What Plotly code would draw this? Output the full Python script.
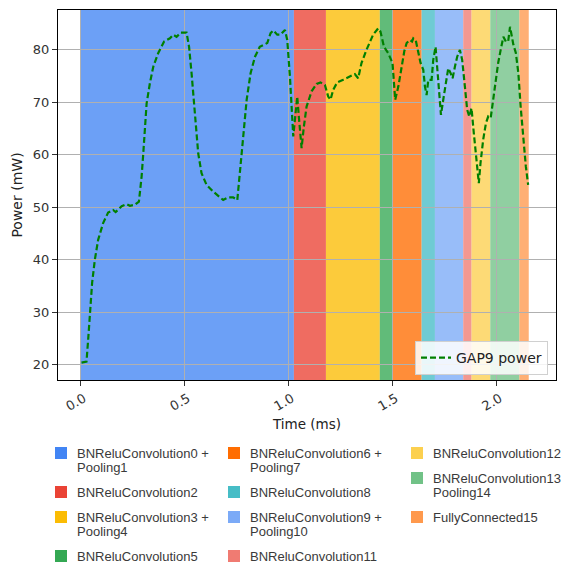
import plotly.graph_objects as go

# ---------------- data ----------------
time_ms = [0.003, 0.027, 0.035, 0.043, 0.054, 0.067, 0.083, 0.107, 0.131, 0.155,
           0.167, 0.196, 0.220, 0.236, 0.260, 0.279, 0.292, 0.300, 0.308, 0.316,
           0.332, 0.348, 0.372, 0.400, 0.428, 0.444, 0.460, 0.481, 0.508, 0.520,
           0.532, 0.543, 0.553, 0.564, 0.580, 0.604, 0.636, 0.665, 0.684, 0.708,
           0.732, 0.752, 0.761, 0.772, 0.784, 0.797, 0.816, 0.837, 0.860, 0.896,
           0.912, 0.925, 0.944, 0.960, 0.981, 0.992, 1.005, 1.013, 1.021, 1.029,
           1.040, 1.049, 1.061, 1.072, 1.085, 1.109, 1.133, 1.152, 1.173, 1.189,
           1.200, 1.213, 1.232, 1.261, 1.297, 1.317, 1.333, 1.349, 1.373, 1.405,
           1.429, 1.440, 1.457, 1.477, 1.498, 1.505, 1.511, 1.526, 1.542, 1.555,
           1.566, 1.582, 1.592, 1.598, 1.610, 1.622, 1.633, 1.646, 1.654, 1.662,
           1.670, 1.686, 1.694, 1.705, 1.713, 1.723, 1.731, 1.742, 1.753, 1.766,
           1.777, 1.787, 1.798, 1.809, 1.822, 1.833, 1.846, 1.857, 1.867, 1.878,
           1.889, 1.902, 1.913, 1.921, 1.934, 1.947, 1.958, 1.970, 1.983, 1.995,
           2.006, 2.018, 2.031, 2.043, 2.054, 2.063, 2.071, 2.079, 2.091, 2.103,
           2.114, 2.127, 2.139, 2.150]
power_mw = [20.4, 20.6, 24.8, 30.0, 35.6, 40.0, 43.8, 47.0, 49.0, 49.5,
            49.1, 50.2, 50.6, 50.3, 50.5, 51.1, 55.9, 60.3, 65.4, 69.8,
            73.7, 76.8, 79.4, 81.6, 82.2, 82.9, 82.5, 83.3, 83.3, 80.6,
            75.6, 69.8, 64.8, 60.3, 56.5, 54.3, 53.0, 52.1, 51.4, 51.9,
            51.9, 51.4, 55.2, 60.3, 65.4, 70.5, 75.6, 78.7, 80.6, 81.3,
            83.2, 83.7, 82.9, 82.9, 83.8, 81.9, 74.9, 67.9, 63.5, 66.7,
            71.1, 66.7, 61.3, 65.4, 69.2, 72.1, 73.5, 73.8, 73.3, 71.1,
            70.5, 72.4, 73.8, 74.3, 75.0, 75.4, 74.6, 77.5, 80.0, 82.9,
            84.1, 83.5, 80.6, 79.4, 77.5, 74.3, 70.5, 73.0, 76.8, 79.8,
            81.3, 81.9, 81.6, 82.2, 81.8, 79.4, 77.5, 76.2, 73.0, 71.4,
            74.3, 74.3, 78.1, 80.6, 76.2, 71.1, 67.6, 70.5, 73.7, 76.5,
            75.6, 74.6, 76.8, 78.7, 80.0, 78.1, 73.0, 68.6, 67.3, 68.9,
            64.1, 59.0, 54.6, 58.4, 62.9, 66.0, 67.3, 67.0, 71.1, 74.9,
            77.5, 80.0, 82.5, 81.6, 81.6, 84.4, 82.5, 81.0, 79.4, 75.6,
            69.2, 62.9, 57.8, 54.3]

layer_names = ["BNReluConvolution0 + Pooling1", "BNReluConvolution2",
               "BNReluConvolution3 + Pooling4", "BNReluConvolution5",
               "BNReluConvolution6 + Pooling7", "BNReluConvolution8",
               "BNReluConvolution9 + Pooling10", "BNReluConvolution11",
               "BNReluConvolution12", "BNReluConvolution13 + Pooling14",
               "FullyConnected15"]
layer_colors = ["#4285F4", "#EA4335", "#FBBC04", "#34A853", "#FF6D01", "#46BDC6",
                "#7BAAF7", "#F07B72", "#FCD04F", "#71C287", "#FF994D"]
layer_starts = [0.000, 1.024, 1.178, 1.437, 1.500, 1.638, 1.702, 1.838, 1.878, 1.968, 2.108]
layer_ends = [1.024, 1.178, 1.437, 1.500, 1.638, 1.702, 1.838, 1.878, 1.968, 2.108, 2.153]

x_ticks = [0.0, 0.5, 1.0, 1.5, 2.0]
x_tick_labels = ["0.0", "0.5", "1.0", "1.5", "2.0"]
y_ticks = [20, 30, 40, 50, 60, 70, 80]
y_tick_labels = ["20", "30", "40", "50", "60", "70", "80"]

# ---------------- layout geometry (page pixels) ----------------
PAGE_W, PAGE_H = 569, 565
OFF = 8                      # default body margin of the html page
W, H = PAGE_W - OFF, PAGE_H - OFF
PLOT_L, PLOT_T, PLOT_R, PLOT_B = 58, 10, 556, 380   # plot area in page pixels
ML, MT = PLOT_L - OFF, PLOT_T - OFF
MR, MB = W + OFF - PLOT_R, H + OFF - PLOT_B
PW, PH = PLOT_R - PLOT_L, PLOT_B - PLOT_T


def paper_x(px):
    return (px - PLOT_L) / PW


def paper_y(py):
    return (PLOT_B - py) / PH


AX_FONT = "DejaVu Sans"
LEG_FONT = "Liberation Sans, Arial, sans-serif"

fig = go.Figure()

# layer bands
for s, e, c in zip(layer_starts, layer_ends, layer_colors):
    fig.add_shape(type="rect", xref="x", yref="y domain", x0=s, x1=e, y0=0, y1=1,
                  fillcolor=c, opacity=0.78, line=dict(width=0), layer="below")

fig.add_trace(go.Scatter(
    x=time_ms, y=power_mw, mode="lines", name="GAP9 power",
    line=dict(color="#008000", width=2.2, dash="6px,3px"),
    showlegend=True,
))

# custom multi-column legend for layers (column-major)
items_per_col = [4, 4, 3]
col_px = [55, 228, 411]
row0 = 453
idx = 0
for ci, n in enumerate(items_per_col):
    y = row0
    for _ in range(n):
        name = layer_names[idx]
        color = layer_colors[idx]
        lines = name.replace(" + ", " +\n").split("\n")
        x0 = col_px[ci]
        fig.add_shape(type="rect", xref="paper", yref="paper",
                      x0=paper_x(x0), x1=paper_x(x0 + 12),
                      y0=paper_y(y + 6), y1=paper_y(y - 6),
                      fillcolor=color, line=dict(width=0), layer="above")
        for li, txt in enumerate(lines):
            fig.add_annotation(xref="paper", yref="paper", x=paper_x(x0 + 20),
                               y=paper_y(y + 14 * li), text=txt, showarrow=False,
                               xanchor="left", yanchor="middle", align="left",
                               font=dict(family=LEG_FONT, size=13, color="#3a3a3a"))
        y += 25 + 14 * (len(lines) - 1)
        idx += 1

fig.update_layout(
    width=W, height=H,
    margin=dict(l=ML, r=MR, t=MT, b=MB, pad=0),
    paper_bgcolor="white", plot_bgcolor="white",
    font=dict(family=AX_FONT, size=13, color="#222"),
    legend=dict(x=paper_x(548), y=paper_y(375), xanchor="right", yanchor="bottom",
                bgcolor="rgba(255,255,255,0.85)", bordercolor="#d0d0d0", borderwidth=1,
                font=dict(family=AX_FONT, size=14, color="#222"),
                tracegroupgap=0, itemwidth=30),
    xaxis=dict(range=[-0.11, 2.284], tickvals=x_ticks, ticktext=x_tick_labels,
               tickangle=-30, ticks="outside", ticklen=5, tickcolor="#333",
               showline=True, mirror=True, linecolor="black", linewidth=1.2,
               showgrid=True, gridcolor="#b0b0b0", gridwidth=1.2, zeroline=False,
               tickfont=dict(family=AX_FONT, size=13, color="#333"),
               ticklabelshift=3,
               title=dict(text="Time (ms)", standoff=6,
                          font=dict(family=AX_FONT, size=13.5, color="#222"))),
    yaxis=dict(range=[17.1, 87.6], tickvals=y_ticks, ticktext=y_tick_labels,
               ticks="outside", ticklen=5, tickcolor="#333",
               showline=True, mirror=True, linecolor="black", linewidth=1.2,
               showgrid=True, gridcolor="#b0b0b0", gridwidth=1.2, zeroline=False,
               tickfont=dict(family=AX_FONT, size=13, color="#333"),
               title=dict(text="Power (mW)", standoff=6,
                          font=dict(family=AX_FONT, size=14, color="#222"))),
)

fig.write_html("out.html")
